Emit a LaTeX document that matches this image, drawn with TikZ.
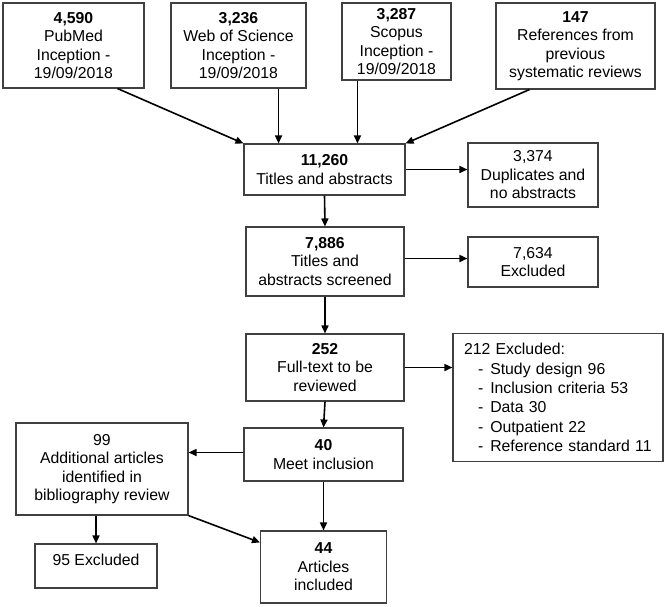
\documentclass[tikz,border=0pt]{standalone}
\usepackage{fontspec}
\setmainfont{Liberation Sans}
\usetikzlibrary{arrows.meta,calc}
\def\exitem#1{\hspace*{14pt}-\hspace*{7pt}#1}
\tikzset{
	flowbox/.style={draw=black!75, line width=1.1pt, align=center, inner sep=0pt, font=\fontsize{15.8}{18.5}\selectfont},
	flowarrow/.style={line width=1.6pt, -{Triangle[length=8pt,width=7pt]}}
}

\begin{document}
\begin{tikzpicture}[x=1pt, y=-1pt]
			%%%%% START %%%%%
			\useasboundingbox (0, 0) rectangle (666, 606);
			
			% sources
			\node[flowbox, minimum width=141pt, minimum height=85pt] (pubmed) at (73.5, 45.5) {\textbf{4,590}\\PubMed\\Inception -\\19/09/2018};
			\node[flowbox, minimum width=135pt, minimum height=85pt] (wos) at (238.5, 45.5) {\textbf{3,236}\\Web of Science\\Inception -\\19/09/2018};
			\node[flowbox, minimum width=109pt, minimum height=77pt] (scopus) at (396.5, 41.5) {\textbf{3,287}\\Scopus\\Inception -\\19/09/2018};
			\node[flowbox, minimum width=159pt, minimum height=86pt] (refs) at (575.5, 46) {\textbf{147}\\References from\\previous\\systematic reviews};
			
			% screening
			\node[flowbox, minimum width=161pt, minimum height=51pt] (titles) at (324.5, 169.5) {\textbf{11,260}\\Titles and abstracts};
			\node[flowbox, minimum width=130pt, minimum height=64pt] (dups) at (533, 175) {3,374\\Duplicates and\\no abstracts};
			\node[flowbox, minimum width=158pt, minimum height=69pt] (screened) at (325, 261.5) {\textbf{7,886}\\Titles and\\abstracts screened};
			\node[flowbox, minimum width=130pt, minimum height=50pt] (exclA) at (533, 262) {7,634\\Excluded};
			
			% full text
			\node[flowbox, minimum width=158pt, minimum height=67pt] (fulltext) at (325, 367.5) {\textbf{252}\\Full-text to be\\reviewed};
			\node[flowbox, minimum width=210pt, minimum height=128pt, text width=188pt, inner xsep=11pt, align=left, font=\fontsize{15.8}{19.3}\selectfont] (exclB) at (558, 397.5) {212 Excluded:\\\exitem{Study design 96}\\\exitem{Inclusion criteria 53}\\\exitem{Data 30}\\\exitem{Outpatient 22}\\\exitem{Reference standard 11}};
			\node[flowbox, minimum width=159pt, minimum height=53pt] (meet) at (323.5, 454.5) {\textbf{40}\\Meet inclusion};
			
			% bibliography
			\node[flowbox, minimum width=172pt, minimum height=92pt] (addl) at (102, 469) {99\\Additional articles\\identified in\\bibliography review};
			\node[flowbox, minimum width=122pt, minimum height=44pt, text depth=12pt] (exclC) at (96, 566) {95 Excluded};
			\node[flowbox, minimum width=126pt, minimum height=72pt] (incl) at (323.5, 567) {\textbf{44}\\Articles\\included};
			
			% connectors
			\draw[flowarrow] ([xshift=-27pt]pubmed.south east) -- (titles.north west);
			\draw[flowarrow] ([xshift=-28pt]wos.south east) coordinate (w) -- (w |- titles.north);
			\draw[flowarrow] ([xshift=16pt]scopus.south west) coordinate (s) -- (s |- titles.north);
			\draw[flowarrow] ([xshift=34pt]refs.south west) -- (titles.north east);
			
			\draw[flowarrow] (titles.east) -- (titles.east -| dups.west);
			\draw[flowarrow] (titles.south) -- (screened.north);
			\draw[flowarrow] ([yshift=3pt]screened.east) coordinate (e) -- (e -| exclA.west);
			\draw[flowarrow] (screened.south) -- (fulltext.north);
			\draw[flowarrow] (fulltext.east) -- (fulltext.east -| exclB.west);
			\draw[flowarrow] (fulltext.south) -- (meet.north);
			\draw[flowarrow] ([yshift=2pt]meet.west) coordinate (m) -- (m -| addl.east);
			\draw[flowarrow] (meet.south) -- (incl.north);
			\draw[flowarrow] (exclC.north |- addl.south) -- (exclC.north);
			\draw[flowarrow] (addl.south east) -- ([yshift=-12pt]incl.north west);
			
			%%%%% END %%%%%
\end{tikzpicture}
\end{document}
